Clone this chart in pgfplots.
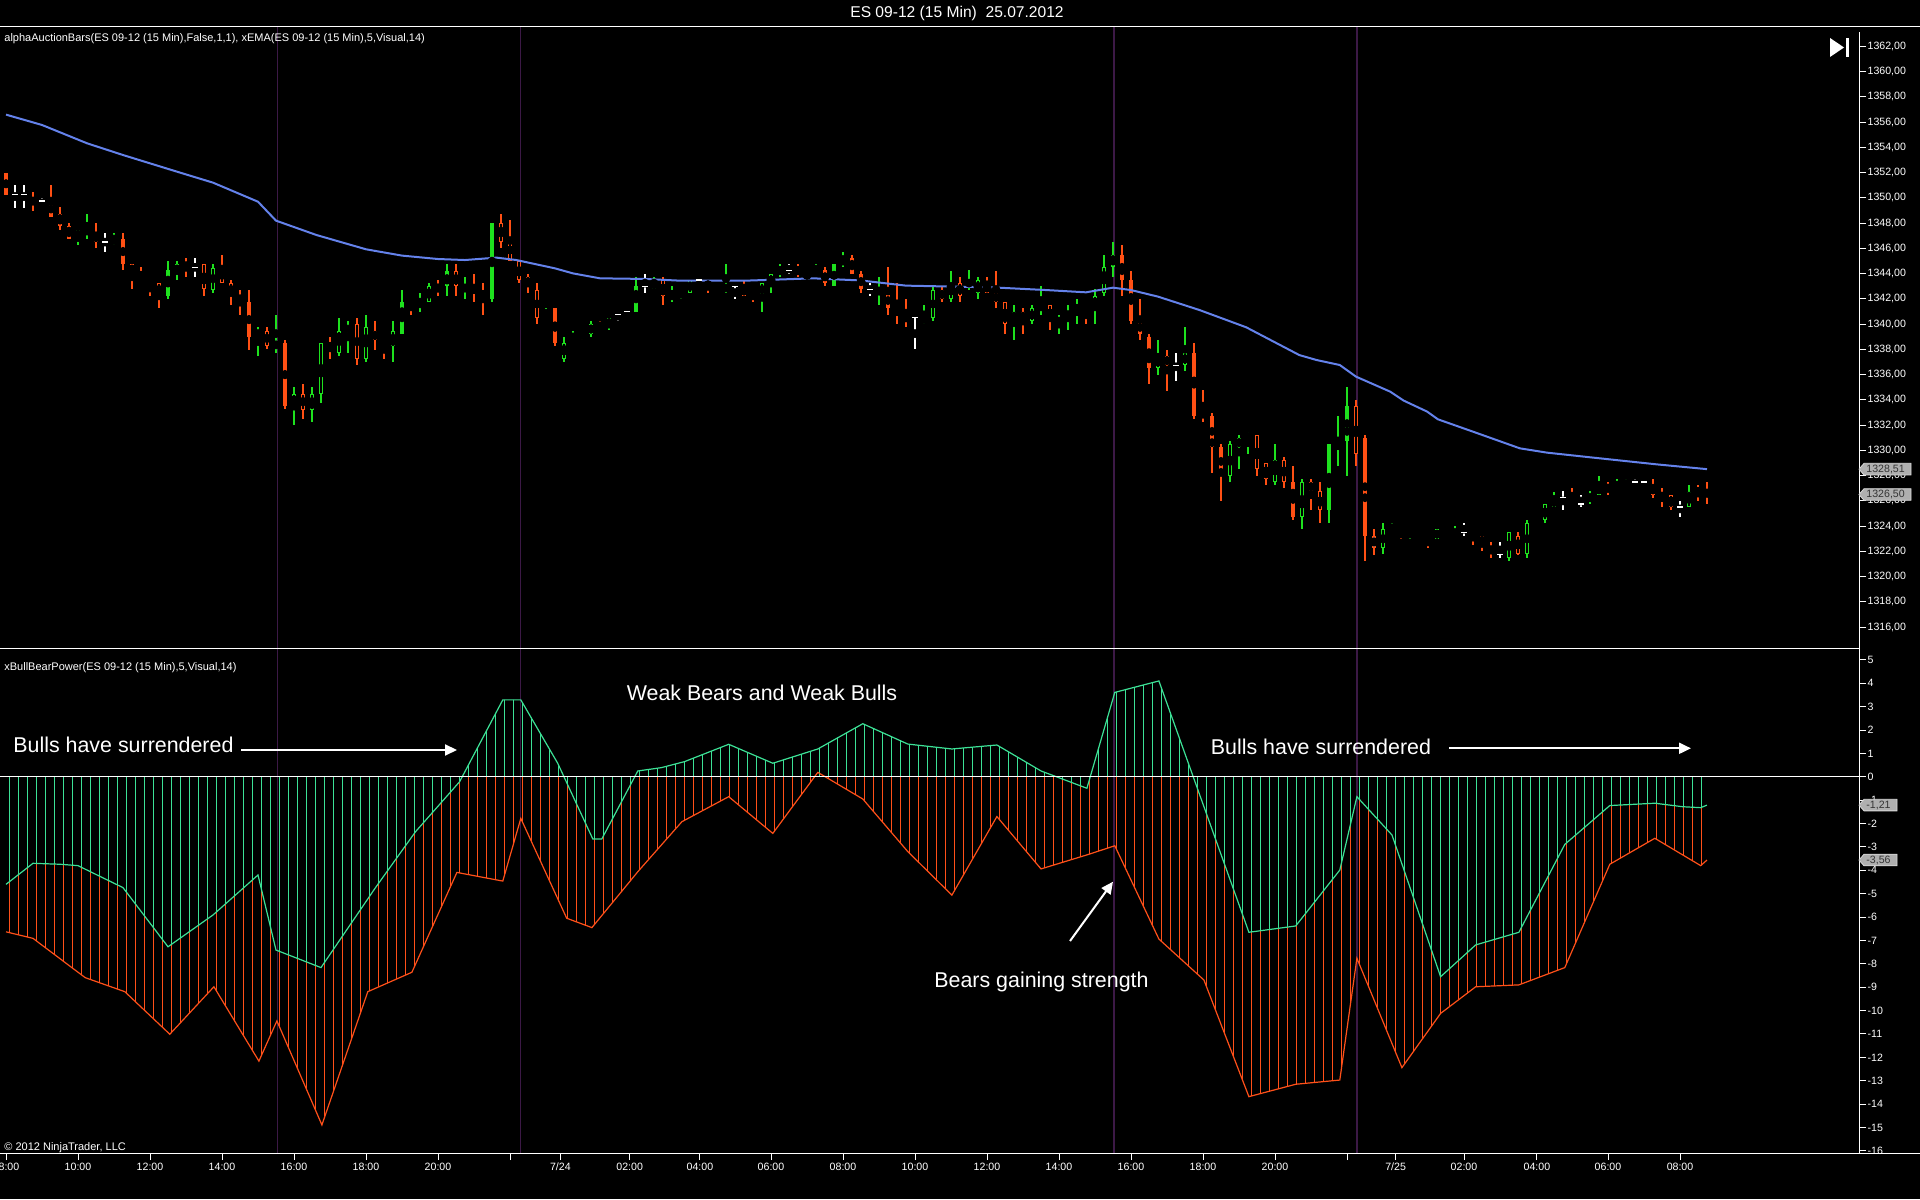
\documentclass[border=0pt]{standalone}
\usepackage{fontspec}
\setmainfont{Liberation Sans}
\usepackage{pgfplots}
\usepackage{pgfplotstable}
\pgfplotsset{compat=1.18}
\usetikzlibrary{patterns.meta,arrows.meta}
\definecolor{candgreen}{RGB}{30,225,30}
\definecolor{candorange}{RGB}{255,80,20}
\definecolor{candpale}{RGB}{255,215,195}
\definecolor{emablue}{RGB}{100,130,235}
\definecolor{bullcol}{RGB}{60,225,150}
\definecolor{bearcol}{RGB}{255,80,25}
\definecolor{sepcol}{RGB}{60,25,70}
\definecolor{taggray}{RGB}{175,175,175}
\newcommand{\tickfont}{\fontsize{5.3}{6.3}\selectfont}
\newcommand{\lblfont}{\fontsize{5.5}{6.5}\selectfont}
\newcommand{\annfont}{\fontsize{10.7}{12}\selectfont}

% i open high low close class (1 green filled, 2 green hollow, 3 orange filled, 4 orange hollow, 5 orange pale, 6 white doji)
\pgfplotstableread{
i o h l c k
0 1352 1352 1350.25 1350.25 3
1 1350.25 1351 1349.25 1350.25 6
2 1350.25 1351 1349.25 1350.25 6
3 1350 1350.5 1349 1349.5 3
4 1349.75 1350 1349.25 1349.75 6
5 1349.75 1351 1348.5 1348.5 3
6 1348.75 1349.25 1347.5 1347.75 3
7 1347.75 1348 1346.75 1346.75 3
8 1346.75 1347.5 1346.25 1347.5 2
9 1347.25 1348.75 1346.75 1347.5 1
10 1347.25 1348 1346 1346.5 4
11 1346.5 1347.25 1345.75 1346.5 6
12 1346.5 1347.25 1346.25 1346.75 1
13 1346.75 1347.25 1344.25 1344.75 3
14 1344.75 1344.75 1342.75 1344 4
15 1343.75 1344.5 1343.25 1343.25 3
16 1343.5 1343.5 1342.25 1343 4
17 1343.25 1343.25 1341.25 1342.25 4
18 1342.25 1345 1342 1344.25 1
19 1344 1345 1343.5 1344.75 2
20 1344.75 1345.25 1343.75 1344.5 5
21 1344.5 1345.25 1343.75 1344.5 6
22 1344.75 1344.75 1342.25 1342.75 4
23 1342.75 1344.75 1342.5 1344.5 2
24 1344.5 1345.5 1343.25 1343.25 4
25 1343.25 1343.5 1341.5 1342.25 4
26 1342.25 1342.75 1340.75 1341.75 5
27 1341.75 1342.75 1338 1339 3
28 1339 1339.75 1337.5 1339.5 1
29 1339.5 1339.75 1338 1338.25 4
30 1338.25 1340.75 1337.75 1338.5 1
31 1338.5 1338.75 1333.25 1333.5 3
32 1333.5 1335 1332 1334.5 2
33 1334.5 1335.25 1332.5 1333.25 4
34 1333.25 1335 1332.25 1334.5 2
35 1334.5 1338.5 1333.75 1338.5 2
36 1338.5 1339 1337.25 1338 5
37 1337.75 1340.5 1337.5 1339.5 2
38 1339.5 1340.25 1337.75 1339.75 1
39 1340 1340.5 1336.75 1337.25 4
40 1337.25 1340.75 1337 1339.75 2
41 1339.5 1340.25 1338 1338.75 5
42 1338.75 1338.75 1337.25 1338.25 5
43 1338.25 1340.25 1337 1339.5 2
44 1339.25 1342.75 1339.25 1341.75 1
45 1342 1342 1340.75 1341.5 5
46 1341.5 1342.5 1341 1341.75 1
47 1341.75 1343.25 1341.75 1343 2
48 1343 1343.5 1342.25 1342.75 5
49 1343 1344.75 1342.25 1344.25 1
50 1344.25 1344.75 1342.25 1343 4
51 1342.75 1343.75 1342 1343 1
52 1343 1344 1341.75 1342.5 5
53 1342.5 1343.25 1340.75 1342.25 5
54 1342 1348 1341.75 1348 1
55 1348 1348.75 1346 1346.5 4
56 1346.75 1348.25 1345 1345 4
57 1345 1345 1343.25 1343.5 4
58 1343.75 1344 1342.5 1343 5
59 1342.75 1343.25 1340 1340.5 4
60 1340.5 1341.25 1340.5 1341 1
61 1341.25 1341.25 1338.25 1338.5 3
62 1337.25 1339 1337 1338.5 2
63 1338.5 1339.5 1338.5 1339 1
64 1339.25 1339.5 1338.75 1339 5
65 1339.25 1340.25 1339 1340 2
66 1340 1340.25 1339.5 1339.5 5
67 1339.75 1340.5 1339.5 1340.5 2
68 1340.75 1341 1340.25 1340.75 6
69 1341 1341.25 1340.75 1341 6
70 1341 1343.75 1341 1343 1
71 1343 1344 1342.5 1343 6
72 1342.75 1343.75 1342.75 1343.5 2
73 1343.5 1343.75 1341.5 1342.25 4
74 1342 1343 1341.75 1342.5 1
75 1342.5 1342.75 1342 1342.75 1
76 1342.5 1343.5 1342.5 1343.5 2
77 1343.5 1343.5 1342.75 1343.5 6
78 1343.5 1343.5 1342.5 1342.75 4
79 1342.75 1343 1342.5 1342.5 5
80 1342.75 1344.75 1342.5 1343 1
81 1343 1343 1342 1343 6
82 1343 1343.5 1342.25 1342.25 4
83 1342.5 1342.75 1341.75 1342.25 5
84 1342.25 1343.25 1341 1343.25 2
85 1343 1344 1342.5 1344 2
86 1344 1344.75 1343.75 1344.5 2
87 1344.25 1344.75 1344 1344.25 6
88 1344.5 1344.75 1343.75 1344 4
89 1344 1344.25 1343.75 1343.75 5
90 1344 1344.75 1344 1344.5 2
91 1344.25 1344.5 1343 1343.25 3
92 1343 1344.75 1343 1344.75 1
93 1344.75 1345.75 1344.5 1345.25 1
94 1345.25 1345.5 1344 1344 3
95 1344 1344.25 1342.5 1342.75 3
96 1342.75 1343.25 1342.25 1342.75 6
97 1342.5 1343.75 1341.5 1342.75 1
98 1342.5 1344.5 1340.75 1341.25 3
99 1341.25 1343.25 1340 1340.75 5
100 1340.75 1342 1339.75 1340.25 5
101 1340.5 1340.5 1338 1340.5 6
102 1340.25 1341.5 1340 1340.5 1
103 1340.5 1343 1340.25 1342.75 2
104 1342.75 1343 1341.75 1342 4
105 1342 1344.25 1341.75 1343.25 2
106 1343.25 1343.75 1341.75 1342.25 4
107 1342.25 1344.25 1342.25 1342.5 1
108 1342.5 1343.75 1342 1343.5 2
109 1343.25 1343.75 1342.5 1342.5 4
110 1342.5 1344.25 1341.25 1341.75 4
111 1341.75 1341.75 1339.25 1340 4
112 1340.25 1341.5 1338.75 1341 2
113 1341 1341.25 1339.25 1340.25 4
114 1340.25 1341.5 1340 1341.25 2
115 1341.25 1343 1340.75 1341.5 1
116 1341.5 1341.5 1339.5 1340.25 4
117 1340 1340.75 1339.25 1340.5 1
118 1340.5 1341.5 1339.5 1341 2
119 1341 1342 1340 1341.5 2
120 1341.5 1341.5 1340 1341.25 5
121 1341.25 1342.75 1340 1342.25 2
122 1342.5 1345.5 1342.25 1344.5 2
123 1344.5 1346.5 1343.75 1345.5 1
124 1345.5 1346.25 1342.25 1343.5 3
125 1343.5 1344.25 1340 1340.25 3
126 1340.25 1342 1338.75 1339.25 3
127 1339 1339.25 1335.25 1336.5 3
128 1336.5 1338.75 1336 1337.5 2
129 1337.5 1338 1334.75 1336.75 5
130 1336.75 1337.75 1335.5 1336.75 6
131 1336.75 1339.75 1336.25 1337.75 2
132 1337.75 1338.5 1332.5 1332.75 3
133 1333 1334.75 1332.25 1332.75 5
134 1332.75 1333 1328.25 1330.25 3
135 1330.25 1330.5 1326 1328 3
136 1328 1330.75 1327.5 1330.5 2
137 1330.25 1331.25 1328.5 1331 2
138 1331 1331.5 1329.75 1331.25 1
139 1331.25 1331.25 1328 1328.5 4
140 1329 1329 1327.25 1327.75 4
141 1327.5 1330.5 1327.25 1329.25 2
142 1329.25 1329.5 1327 1327.5 4
143 1327.5 1328.75 1324.5 1324.75 3
144 1324.75 1327.75 1323.75 1327.5 2
145 1327.5 1327.75 1325.25 1326.75 5
146 1326.75 1327.5 1324.25 1325.25 4
147 1325.25 1330.5 1324.25 1330.5 1
148 1330.25 1332.75 1328.75 1330.5 1
149 1330.75 1335 1328 1333.5 1
150 1333.5 1334 1328.75 1329.75 4
151 1331 1331.25 1321.25 1323.25 3
152 1323.25 1323.75 1321.75 1322.25 5
153 1322.25 1324.25 1321.75 1323.75 2
154 1323.5 1324.25 1323.5 1324 1
155 1323.75 1323.75 1323 1323.25 5
156 1323.25 1323.75 1323 1323.75 2
157 1323.5 1323.75 1323.25 1323.25 5
158 1323.25 1323.25 1322.25 1322.75 5
159 1323 1323.75 1323 1323.75 2
160 1323.5 1323.5 1323 1323.25 5
161 1323 1324 1323 1323.5 2
162 1323.5 1324.25 1323.25 1323.5 6
163 1323.75 1323.75 1322.5 1323.5 5
164 1323.25 1323.25 1322 1322.5 4
165 1322.25 1322.75 1321.5 1322 5
166 1321.75 1322.75 1321.5 1321.75 6
167 1321.5 1323.5 1321.25 1323.5 2
168 1323.25 1323.5 1321.75 1321.75 4
169 1321.75 1324.5 1321.5 1324.25 2
170 1324.25 1324.5 1323.75 1324.5 1
171 1324.5 1325.75 1324.25 1325.75 2
172 1325.5 1326.75 1325.5 1326.25 2
173 1326.25 1326.75 1325.25 1326.25 6
174 1326.25 1327 1325.75 1325.75 5
175 1325.75 1326.5 1325.5 1325.75 6
176 1326 1326.75 1325.75 1326.5 1
177 1326.5 1328 1326.5 1327.25 2
178 1327.25 1327.5 1326.5 1326.75 5
179 1326.75 1327.75 1326.75 1327.25 2
180 1327.25 1327.75 1327 1327.5 1
181 1327.5 1327.75 1327 1327.5 6
182 1327.5 1327.75 1327.25 1327.5 6
183 1327.25 1327.75 1326.25 1326.5 4
184 1326.5 1327 1325.5 1326.25 5
185 1326.5 1326.5 1325.25 1325.5 4
186 1325.5 1326 1324.75 1325.5 6
187 1325.5 1327.25 1325.5 1326.75 2
188 1327 1327.25 1326 1326.5 5
189 1326.75 1327.5 1325.75 1326.5 5
}\candles

\pgfplotstableread{
i v
0 1356.6
4 1355.78
9 1354.33
13 1353.40
19 1352.08
23 1351.21
28 1349.70
30 1348.20
34.5 1347.06
40 1345.93
44 1345.43
48 1345.16
51 1345.08
54.5 1345.27
56.7 1345.08
61 1344.42
63 1344.02
66 1343.63
71 1343.58
75 1343.44
82 1343.44
89.7 1343.63
95 1343.46
100 1343.05
109.7 1342.91
115.6 1342.70
120 1342.52
123 1342.89
125 1342.70
128 1342.18
132.6 1341.12
137.8 1339.75
143.7 1337.55
145.6 1337.16
148.2 1336.76
150 1335.84
153.8 1334.65
155.3 1333.94
157.9 1333.07
159.1 1332.46
163 1331.48
168.2 1330.16
171.2 1329.82
176 1329.45
183.4 1328.89
189 1328.51
}\ema

\pgfplotstableread{
i v
0 -4.60
3 -3.70
6 -3.74
8 -3.80
13 -4.74
18 -7.27
23 -5.91
28 -4.20
30 -7.41
35 -8.16
41 -4.77
45.5 -2.35
50.4 -0.21
55.2 3.29
57.2 3.29
61.3 0.58
65.2 -2.66
66.2 -2.66
70.2 0.25
72.8 0.39
75.4 0.65
80.3 1.39
85.2 0.58
90.2 1.19
95.2 2.27
100.2 1.40
105.1 1.19
110.1 1.36
115 0.25
120.1 -0.49
123.2 3.61
128.1 4.10
138.1 -6.65
143.3 -6.38
148.2 -3.99
150.1 -0.85
154 -2.49
159.4 -8.55
163.3 -7.19
168.1 -6.65
173.2 -2.89
178.2 -1.23
183.2 -1.13
186.3 -1.28
188.3 -1.32
189 -1.21
}\bull

\pgfplotstableread{
i v
0 -6.63
3 -6.91
8.8 -8.59
13.2 -9.19
18.2 -11.01
23.1 -8.98
28.1 -12.16
30.1 -10.44
35.1 -14.89
40.2 -9.19
45.1 -8.36
50.1 -4.09
55.2 -4.46
57.2 -1.78
62.3 -6.05
65.1 -6.45
70.2 -4.06
75.1 -1.92
80.3 -0.85
85.2 -2.42
90.2 0.19
95.2 -0.95
100.2 -3.20
105.1 -5.06
110.1 -1.70
115 -3.94
120.1 -3.34
123.2 -2.95
128.1 -6.94
133.1 -8.69
138.1 -13.68
143.3 -13.15
148.2 -12.97
150.1 -7.76
155.1 -12.44
159.4 -10.12
163.3 -8.98
168.1 -8.90
173.2 -8.16
178.2 -3.74
183.2 -2.63
188.3 -3.80
189 -3.56
}\bear

\newcommand{\wicks}[3]{%
 \addplot[only marks, mark=none, restrict expr to domain={\thisrow{k}}{#1:#2},
   error bars/.cd, y dir=both, y explicit, error mark=none,
   error bar style={draw=#3, line width=0.65pt}]
 table[x=i, y expr={(\thisrow{h}+\thisrow{l})/2}, y error expr={(\thisrow{h}-\thisrow{l})/2}] {\candles};}
\newcommand{\bodies}[5]{%
 \addplot[only marks, mark=none, restrict expr to domain={\thisrow{k}}{#1:#2},
   error bars/.cd, y dir=both, y explicit, error mark=none,
   error bar style={draw=#3, line width=#4}]
 table[x=i, y expr={(\thisrow{o}+\thisrow{c})/2}, y error expr={max(0,abs(\thisrow{o}-\thisrow{c})/2-#5)}] {\candles};}

\begin{document}
\begin{tikzpicture}[x=1pt,y=1pt]
\fill[black] (0,0) rectangle (960,599.5);
% ---------------- top panel
\begin{axis}[
  at={(0pt,275pt)}, anchor=south west, scale only axis, width=929.5pt, height=311pt,
  xmin=-0.667, xmax=205.89, ymin=1314.26, ymax=1363.545,
  axis line style={draw=none}, xtick=\empty,
  ytick={1316,1318,...,1362}, ytick pos=right, yticklabel pos=right,
  tick align=outside, major tick length=3.5pt, tick style={white,line width=0.5pt},
  yticklabel={\pgfmathparse{int(round(\tick))}\pgfmathresult,00},
  yticklabel style={white,font=\tickfont,inner sep=0.6pt},
]
\addplot[sepcol, line width=0.6pt] coordinates {(30.2,1314.26) (30.2,1363.545)};
\addplot[sepcol, line width=0.6pt] coordinates {(57.2,1314.26) (57.2,1363.545)};
\addplot[sepcol, line width=0.6pt] coordinates {(123.1,1314.26) (123.1,1363.545)};
\addplot[sepcol, line width=0.6pt] coordinates {(150.1,1314.26) (150.1,1363.545)};
\wicks{1}{2}{candgreen}
\wicks{3}{5}{candorange}
\wicks{6}{6}{white}
\bodies{1}{2}{candgreen}{2.1pt}{0}
\bodies{3}{5}{candorange}{2.1pt}{0}
\bodies{2}{2}{black}{1.05pt}{0.08}
\bodies{4}{4}{black}{1.05pt}{0.08}
\bodies{5}{5}{candpale}{1.05pt}{0.08}
\addplot[only marks, mark=-, mark size=1.3pt, white, mark options={line width=0.65pt},
  restrict expr to domain={\thisrow{k}}{6:6}] table[x=i,y=o] {\candles};
\addplot[emablue, line width=1pt] table[x=i,y=v] {\ema};
\coordinate (tagA) at (axis cs:205.89,1328.51);
\coordinate (tagB) at (axis cs:205.89,1326.50);
\end{axis}
% ---------------- bottom panel
\begin{axis}[
  at={(0pt,23pt)}, anchor=south west, scale only axis, width=929.5pt, height=252pt,
  xmin=-0.667, xmax=205.89, ymin=-16.09, ymax=5.466,
  axis line style={draw=none},
  xtick={0,8,16,24,32,40,48,56,61.6,69.3,77.1,85,93,101,109,117,125,133,141,149,154.4,162,170.1,178,186},
  xticklabels={08:00,10:00,12:00,14:00,16:00,18:00,20:00,{},7/24,02:00,04:00,06:00,08:00,10:00,12:00,14:00,16:00,18:00,20:00,{},7/25,02:00,04:00,06:00,08:00},
  xtick pos=bottom,
  ytick={-16,-15,...,5}, ytick pos=right, yticklabel pos=right,
  tick align=outside, major tick length=3.5pt, tick style={white,line width=0.5pt},
  yticklabel={\pgfmathparse{int(round(\tick))}\pgfmathresult},
  yticklabel style={white,font=\tickfont,inner sep=0.6pt},
  xticklabel style={white,font=\tickfont,inner sep=1.2pt},
]
\addplot[sepcol, line width=0.6pt] coordinates {(30.2,-16.09) (30.2,5.466)};
\addplot[sepcol, line width=0.6pt] coordinates {(57.2,-16.09) (57.2,5.466)};
\addplot[sepcol, line width=0.6pt] coordinates {(123.1,-16.09) (123.1,5.466)};
\addplot[sepcol, line width=0.6pt] coordinates {(150.1,-16.09) (150.1,5.466)};
\addplot[draw=none, pattern color=bearcol, pattern={Lines[angle=90,distance=4.5pt,line width=0.5pt]}] table[x=i,y=v] {\bear} \closedcycle;
\addplot[draw=none, pattern color=bullcol, pattern={Lines[angle=90,distance=4.5pt,line width=0.5pt]}] table[x=i,y=v] {\bull} \closedcycle;
\addplot[bearcol, line width=0.6pt] table[x=i,y=v] {\bear};
\addplot[bullcol, line width=0.6pt] table[x=i,y=v] {\bull};
\addplot[white, line width=0.5pt] coordinates {(-0.667,0) (205.89,0)};
\coordinate (tagC) at (axis cs:205.89,-1.21);
\coordinate (tagD) at (axis cs:205.89,-3.56);
\end{axis}
% ---------------- frame
\draw[white, line width=0.5pt] (0,586) -- (960,586);
\draw[white, line width=0.5pt] (0,275) -- (929.5,275);
\draw[white, line width=0.5pt] (0,23) -- (960,23);
\draw[white, line width=0.5pt] (929.5,23) -- (929.5,583.5);
% ---------------- value tags
\foreach \c/\t/\w in {tagA/{1328,51}/23.5, tagB/{1326,50}/23.5, tagC/{-1,21}/16.5, tagD/{-3,56}/16.5}{
  \draw[fill=taggray, draw=white!85!black, line width=0.4pt] (\c) -- ++(2.5,2.9) -- ++(\w,0) -- ++(0,-5.8) -- ++(-\w,0) -- cycle;
  \node[anchor=west, inner sep=0pt, font=\tickfont, text=black!80] at ([xshift=3.5pt]\c) {\t};
}
% ---------------- texts
\node[white, font=\fontsize{7.8}{9}\selectfont] at (478.5,592.75) {ES 09-12 (15 Min)\ \ 25.07.2012};
\node[white, anchor=west, inner sep=0pt, font=\lblfont] at (2,580) {alphaAuctionBars(ES 09-12 (15 Min),False,1,1), xEMA(ES 09-12 (15 Min),5,Visual,14)};
\node[white, anchor=west, inner sep=0pt, font=\lblfont] at (2,265.65) {xBullBearPower(ES 09-12 (15 Min),5,Visual,14)};
\node[white, anchor=west, inner sep=0pt, font=\lblfont] at (2,25.9) {© 2012 NinjaTrader, LLC};
\node[white, inner sep=0pt, font=\annfont] at (381,253) {Weak Bears and Weak Bulls};
\node[white, anchor=west, inner sep=0pt, font=\annfont] at (6.5,227) {Bulls have surrendered};
\node[white, anchor=west, inner sep=0pt, font=\annfont] at (605.25,226.15) {Bulls have surrendered};
\node[white, anchor=west, inner sep=0pt, font=\annfont] at (467,108.65) {Bears gaining strength};
\draw[white, line width=1pt, -{Triangle[length=6pt,width=5.5pt]}] (120.5,224.5) -- (228.5,224.5);
\draw[white, line width=1pt, -{Triangle[length=6pt,width=5.5pt]}] (724.5,225.35) -- (845.5,225.35);
\draw[white, line width=1pt, -{Triangle[length=6pt,width=5.5pt]}] (535,129) -- (556.5,158.65);
% play-to-end icon
\fill[white] (915,580.5) -- (915,571) -- (922,575.75) -- cycle;
\fill[white] (923,571) rectangle (924.5,580.5);
\pgfresetboundingbox
\path[use as bounding box] (0,0) rectangle (960,599.5);
\end{tikzpicture}
\end{document}
